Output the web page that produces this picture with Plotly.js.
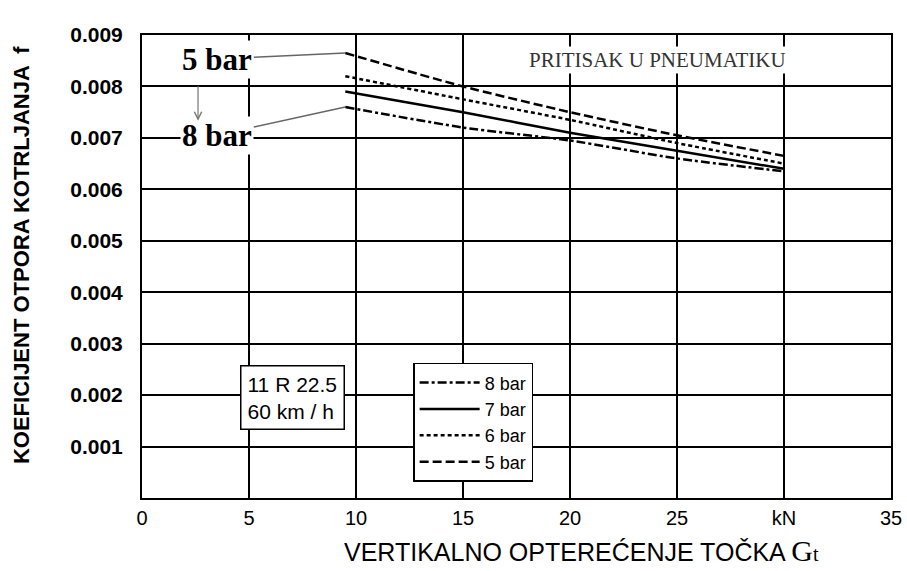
<!DOCTYPE html>
<html>
<head>
<meta charset="utf-8">
<script src="https://cdn.plot.ly/plotly-3.0.1.min.js"></script>
<style>html,body{margin:0;padding:0;background:#fff}#chart{width:907px;height:571px}</style>
</head>
<body>
<div id="chart"></div>
<script>
// Data
const loadKN = [9.5, 15, 20, 25, 30];
const bar8 = [0.0076, 0.0072, 0.00695, 0.0066, 0.00635];
const bar7 = [0.0079, 0.0075, 0.0071, 0.00675, 0.0064];
const bar6 = [0.0082, 0.00775, 0.00735, 0.0069, 0.0065];
const bar5 = [0.00865, 0.0080, 0.0075, 0.00705, 0.00665];
const seriesNames = ['8 bar', '7 bar', '6 bar', '5 bar'];
const xTickVals = [0, 5, 10, 15, 20, 25, 30, 35];
const xTickText = ['0', '5', '10', '15', '20', '25', 'kN', '35'];
const yTickVals = [0.001, 0.002, 0.003, 0.004, 0.005, 0.006, 0.007, 0.008, 0.009];
const yTickText = ['0.001', '0.002', '0.003', '0.004', '0.005', '0.006', '0.007', '0.008', '0.009'];

const sans = 'Liberation Sans, Arial, sans-serif';
const serif = 'Liberation Serif, Times New Roman, serif';

const series = [bar8, bar7, bar6, bar5];
const dashes = ['dashdot', 'solid', '4px,3px', '9px,4px'];
const traces = series.map((ys, i) => ({
  type: 'scatter', mode: 'lines', x: loadKN, y: ys, name: seriesNames[i],
  line: {color: '#000', width: 2.5, dash: dashes[i], shape: 'spline', smoothing: 0.6}
}));

const layout = {
  width: 907, height: 571,
  margin: {l: 142, r: 16, t: 35, b: 73},
  paper_bgcolor: '#fff', plot_bgcolor: '#fff',
  showlegend: true,
  legend: {x: 0.362, y: 0.292, xanchor: 'left', yanchor: 'top',
    bordercolor: '#000', borderwidth: 1.5, bgcolor: '#fff', itemwidth: 60,
    font: {family: sans, size: 18, color: '#000'}, traceorder: 'normal'},
  xaxis: {range: [0, 35], tickvals: xTickVals, ticktext: xTickText,
    showgrid: true, gridcolor: '#000', gridwidth: 2, zeroline: false,
    showline: true, linecolor: '#000', linewidth: 2, mirror: true,
    ticks: '', ticklabelstandoff: 1,
    tickfont: {family: sans, size: 20, color: '#000'}},
  yaxis: {range: [0, 0.009], tickvals: yTickVals, ticktext: yTickText,
    showgrid: true, gridcolor: '#000', gridwidth: 2, zeroline: false,
    showline: true, linecolor: '#000', linewidth: 2, mirror: true,
    ticks: '', ticklabelstandoff: 13,
    tickfont: {family: sans, size: 21, color: '#000', weight: 'bold'}},
  annotations: [
    {xref: 'x', yref: 'y', x: loadKN[0], y: bar5[0], ax: -128, ay: 6,
     text: '5 bar', showarrow: true, arrowhead: 0, arrowwidth: 1.5, arrowcolor: '#666',
     font: {family: serif, size: 31, color: '#000', weight: 'bold'}, bgcolor: '#fff'},
    {xref: 'x', yref: 'y', x: loadKN[0], y: bar8[0], ax: -128, ay: 28,
     text: '8 bar', showarrow: true, arrowhead: 0, arrowwidth: 1.5, arrowcolor: '#666',
     font: {family: serif, size: 31, color: '#000', weight: 'bold'}, bgcolor: '#fff'},
    {xref: 'paper', yref: 'paper', x: 0.0748, y: 0.815, ax: 0, ay: -36,
     text: '', showarrow: true, arrowhead: 5, arrowsize: 1.2, arrowwidth: 1.2, arrowcolor: '#777'},
    {xref: 'paper', yref: 'paper', x: 0.6889, y: 0.946, xanchor: 'center', yanchor: 'middle',
     text: 'PRITISAK U PNEUMATIKU',
     showarrow: false, font: {family: serif, size: 21, color: '#333'}, bgcolor: '#fff', borderpad: 1},
    {xref: 'paper', yref: 'paper', x: 0.2016, y: 0.216, xanchor: 'center', yanchor: 'middle',
     text: '11 R 22.5<br>60 km / h',
     showarrow: false, align: 'left', font: {family: sans, size: 21, color: '#000'},
     bgcolor: '#fff', bordercolor: '#000', borderwidth: 1.5, borderpad: 6},
    {xref: 'paper', yref: 'paper', x: 0.587, y: -0.114, xanchor: 'center', yanchor: 'middle',
     text: 'VERTIKALNO OPTEREĆENJE TOČKA <span style="font-family:Liberation Serif,serif;font-size:30px">G</span><span style="font-family:Liberation Serif,serif;font-size:20px">t</span>',
     showarrow: false, font: {family: sans, size: 25, color: '#000'}},
    {xref: 'paper', yref: 'paper', x: -0.16, y: 0.525, xanchor: 'center', yanchor: 'middle', textangle: -90,
     text: 'KOEFICIJENT OTPORA KOTRLJANJA &nbsp;f',
     showarrow: false, font: {family: sans, size: 22, color: '#000', weight: 'bold'}}
  ]
};

Plotly.newPlot('chart', traces, layout, {displayModeBar: false, staticPlot: true});
</script>
</body>
</html>
